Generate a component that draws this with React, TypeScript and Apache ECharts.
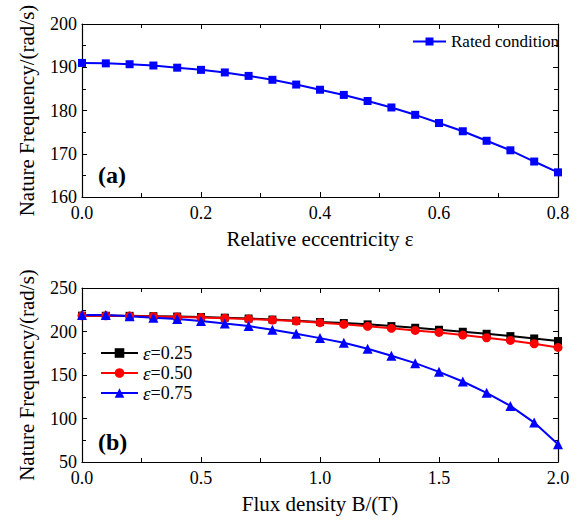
import React, { useEffect, useRef } from "react";
import * as echarts from "echarts";

const ecc = [0, 0.04, 0.08, 0.12, 0.16, 0.2, 0.24, 0.28, 0.32, 0.36, 0.4, 0.44, 0.48, 0.52, 0.56, 0.6, 0.64, 0.68, 0.72, 0.76, 0.8];
const rated = [191.0, 190.9, 190.7, 190.4, 189.9, 189.4, 188.8, 188.0, 187.1, 186.0, 184.8, 183.6, 182.2, 180.7, 179.0, 177.1, 175.2, 173.0, 170.8, 168.2, 165.7];

const flux = [0, 0.1, 0.2, 0.3, 0.4, 0.5, 0.6, 0.7, 0.8, 0.9, 1.0, 1.1, 1.2, 1.3, 1.4, 1.5, 1.6, 1.7, 1.8, 1.9, 2.0];
const e025 = [218.2, 218.1, 218.0, 217.6, 217.2, 216.6, 215.9, 214.9, 213.7, 212.4, 210.9, 209.7, 208.2, 206.2, 204.3, 202.0, 199.7, 197.4, 194.7, 192.0, 189.0];
const e050 = [218.1, 218.0, 217.7, 217.3, 216.8, 216.1, 215.3, 214.3, 213.1, 212.0, 210.1, 208.2, 205.9, 203.6, 201.2, 198.9, 195.9, 192.8, 189.7, 185.9, 181.7];
const e075 = [219.0, 218.9, 217.4, 215.8, 214.3, 212.0, 209.3, 206.2, 202.0, 197.4, 192.4, 187.0, 180.1, 172.1, 163.6, 153.6, 142.5, 129.5, 114.5, 95.3, 70.3];

const FONT = "Liberation Serif";

function pair(xs: number[], ys: number[]) {
  return xs.map((x, i) => [x, ys[i]]);
}

export default function App() {
  const ref = useRef<HTMLDivElement>(null);
  useEffect(() => {
    if (!ref.current) return;
    const chart = echarts.init(ref.current, undefined, { renderer: "svg" });
    const axisBase = {
      axisLine: { show: true, onZero: false, lineStyle: { color: "#000", width: 1.2 } },
      axisTick: { show: true, inside: true, length: 5, lineStyle: { color: "#000" } },
      minorTick: { show: true, splitNumber: 2, length: 4, lineStyle: { color: "#000" } },
      splitLine: { show: false },
      axisLabel: { color: "#000", fontFamily: FONT, fontSize: 18 },
    };
    const nameStyle = { color: "#000", fontFamily: FONT, fontSize: 21 };
    const mkX = (grid: number, min: number, max: number, interval: number, name: string, pos: string) => ({
      ...axisBase,
      type: "value",
      gridIndex: grid,
      min,
      max,
      interval,
      position: pos,
      name: pos === "bottom" ? name : "",
      nameLocation: "middle",
      nameGap: 31,
      nameTextStyle: nameStyle,
      axisLabel: pos === "bottom"
        ? { ...axisBase.axisLabel, margin: 7, formatter: (v: number) => v.toFixed(1) }
        : { show: false },
    });
    const mkY = (grid: number, min: number, max: number, interval: number, name: string, pos: string) => ({
      ...axisBase,
      type: "value",
      gridIndex: grid,
      min,
      max,
      interval,
      position: pos,
      name: pos === "left" ? name : "",
      nameLocation: "middle",
      nameGap: 45,
      nameTextStyle: nameStyle,
      axisLabel: pos === "left" ? { ...axisBase.axisLabel, margin: 5 } : { show: false },
    });
    chart.setOption({
      animation: false,
      backgroundColor: "#fff",
      grid: [
        { left: 82, top: 24, width: 476, height: 173 },
        { left: 82, top: 288, width: 476, height: 174 },
      ],
      xAxis: [
        mkX(0, 0, 0.8, 0.2, "Relative eccentricity ε", "bottom"),
        mkX(0, 0, 0.8, 0.2, "", "top"),
        mkX(1, 0, 2.0, 0.5, "Flux density B/(T)", "bottom"),
        mkX(1, 0, 2.0, 0.5, "", "top"),
      ],
      yAxis: [
        mkY(0, 160, 200, 10, "Nature Frequency/(rad/s)", "left"),
        mkY(0, 160, 200, 10, "", "right"),
        mkY(1, 50, 250, 50, "Nature Frequency/(rad/s)", "left"),
        mkY(1, 50, 250, 50, "", "right"),
      ],
      legend: [
        {
          data: ["Rated condition"],
          left: 412,
          top: 33,
          padding: 0,
          itemWidth: 33,
          itemHeight: 10,
          textStyle: { color: "#000", fontFamily: FONT, fontSize: 17 },
        },
        {
          data: ["ε=0.25", "ε=0.50", "ε=0.75"],
          orient: "vertical",
          left: 100,
          top: 343,
          padding: 0,
          itemWidth: 37,
          itemHeight: 12,
          itemGap: 0,
          formatter: (name: string) => `{i|ε}{n|${name.slice(1)}}`,
          textStyle: {
            color: "#000",
            fontFamily: FONT,
            fontSize: 18,
            rich: {
              i: { fontFamily: FONT, fontSize: 19, fontStyle: "italic", color: "#000", height: 20, lineHeight: 20 },
              n: { fontFamily: FONT, fontSize: 18, color: "#000", height: 20, lineHeight: 20 },
            },
          },
        },
      ],
      graphic: [
        { type: "text", left: 98, top: 163, style: { text: "(a)", fontFamily: FONT, fontWeight: "bold", fontSize: 24, fill: "#000" } },
        { type: "text", left: 98, top: 430, style: { text: "(b)", fontFamily: FONT, fontWeight: "bold", fontSize: 24, fill: "#000" } },
      ],
      series: [
        {
          name: "Rated condition",
          type: "line",
          xAxisIndex: 0,
          yAxisIndex: 0,
          data: pair(ecc, rated),
          symbol: "rect",
          symbolSize: 8,
          lineStyle: { color: "#0000FF", width: 2 },
          itemStyle: { color: "#0000FF" },
        },
        {
          name: "ε=0.25",
          type: "line",
          xAxisIndex: 2,
          yAxisIndex: 2,
          data: pair(flux, e025),
          symbol: "rect",
          symbolSize: 8,
          lineStyle: { color: "#000", width: 2 },
          itemStyle: { color: "#000" },
        },
        {
          name: "ε=0.50",
          type: "line",
          xAxisIndex: 2,
          yAxisIndex: 2,
          data: pair(flux, e050),
          symbol: "circle",
          symbolSize: 9,
          lineStyle: { color: "#FF0000", width: 2 },
          itemStyle: { color: "#FF0000" },
        },
        {
          name: "ε=0.75",
          type: "line",
          xAxisIndex: 2,
          yAxisIndex: 2,
          data: pair(flux, e075),
          symbol: "triangle",
          symbolSize: 10,
          lineStyle: { color: "#0000FF", width: 2 },
          itemStyle: { color: "#0000FF" },
        },
      ],
    });
    return () => chart.dispose();
  }, []);
  return <div ref={ref} style={{ width: 581, height: 526, position: "absolute", left: 0, top: 0 }} />;
}
